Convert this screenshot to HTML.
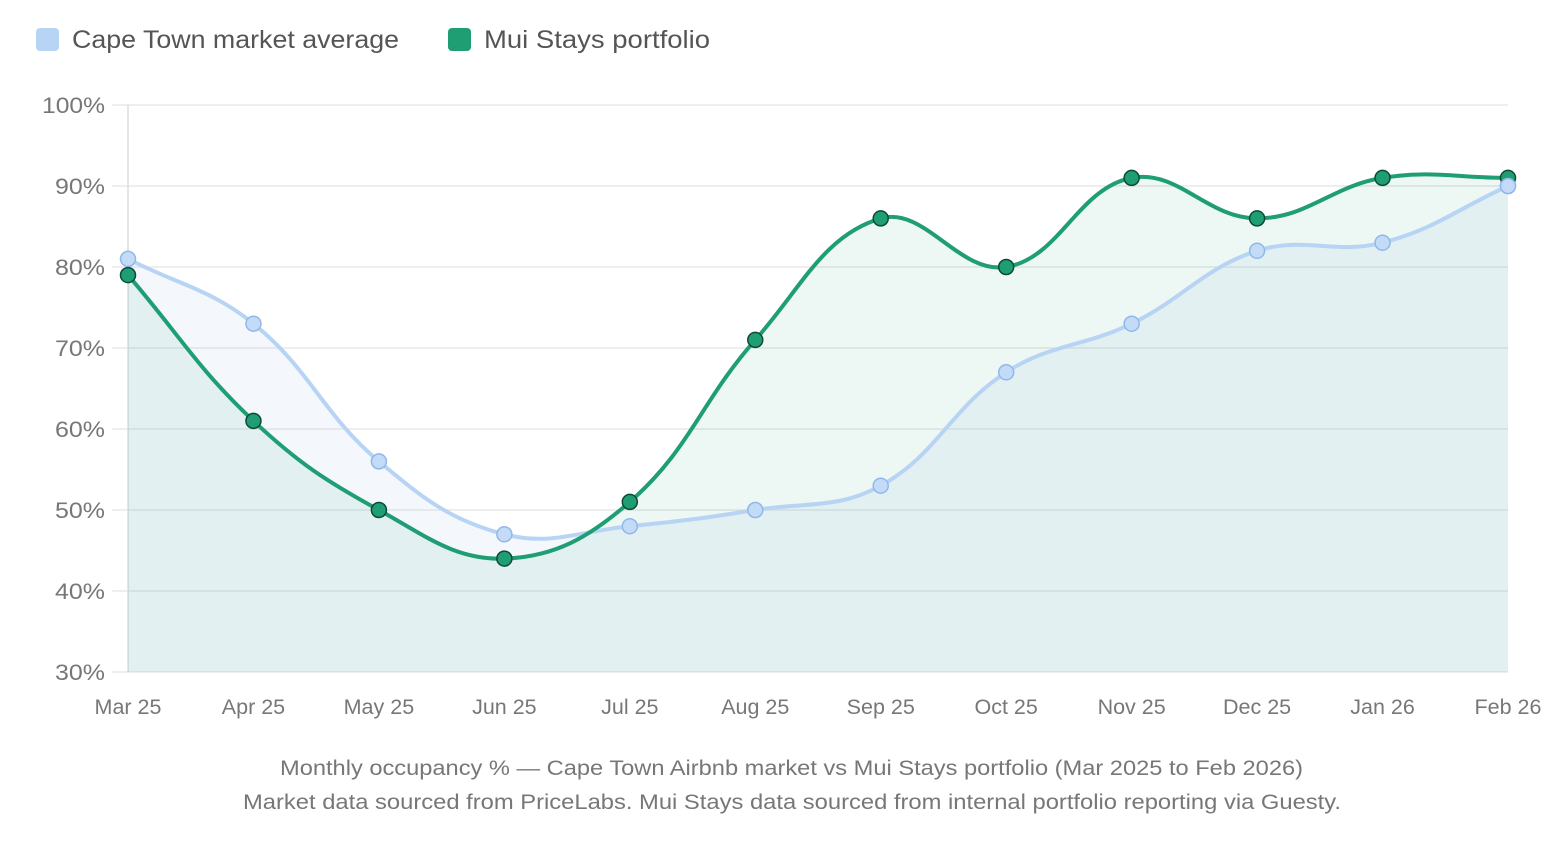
<!DOCTYPE html>
<html><head><meta charset="utf-8">
<style>
html,body{margin:0;padding:0;background:#fff;width:1568px;height:858px;overflow:hidden;font-family:"Liberation Sans",sans-serif;}
svg{position:absolute;left:0;top:0}
</style></head><body>
<svg id="s" width="1568" height="858" xmlns="http://www.w3.org/2000/svg">
<rect x="36" y="28" width="23" height="23" rx="4" fill="#b8d4f5"/>
<text x="72" y="48" font-size="25" fill="#555" textLength="327" lengthAdjust="spacingAndGlyphs">Cape Town market average</text>
<rect x="448" y="28" width="23" height="23" rx="4" fill="#1f9e74"/>
<text x="484" y="48" font-size="25" fill="#555" textLength="226" lengthAdjust="spacingAndGlyphs">Mui Stays portfolio</text>
<g id="grid"></g>
<g id="plot"></g>
<text x="280" y="775" font-size="21" fill="#777" textLength="1023" lengthAdjust="spacingAndGlyphs">Monthly occupancy % — Cape Town Airbnb market vs Mui Stays portfolio (Mar 2025 to Feb 2026)</text>
<text x="243" y="809" font-size="21" fill="#777" textLength="1098" lengthAdjust="spacingAndGlyphs">Market data sourced from PriceLabs. Mui Stays data sourced from internal portfolio reporting via Guesty.</text>
</svg>
<script>
var NS="http://www.w3.org/2000/svg";
function el(p,t,a,txt){var e=document.createElementNS(NS,t);for(var k in a)e.setAttribute(k,a[k]);if(txt!=null)e.textContent=txt;p.appendChild(e);return e;}
var x0=128,x1=1508,yTop=105,yBot=672;
function X(i){return x0+i*(x1-x0)/11;}
function Y(v){return yBot-(v-30)*(yBot-yTop)/70;}
var g=document.getElementById('grid');
for(var v=30;v<=100;v+=10){var y=Y(v);
 el(g,'line',{x1:112,x2:1508,y1:y,y2:y,stroke:'#e8e8e8','stroke-width':1.5});
 var t=el(g,'text',{x:105,y:y+8,'font-size':22,fill:'#777','text-anchor':'end'},v+'%');
 t.setAttribute('textLength',v==100?63:50);t.setAttribute('lengthAdjust','spacingAndGlyphs');}
el(g,'line',{x1:128,x2:128,y1:yTop,y2:yBot,stroke:'#ddd','stroke-width':1.5});
var labs=['Mar 25','Apr 25','May 25','Jun 25','Jul 25','Aug 25','Sep 25','Oct 25','Nov 25','Dec 25','Jan 26','Feb 26'];
labs.forEach(function(l,i){el(g,'text',{x:X(i),y:714,'font-size':21.5,fill:'#777','text-anchor':'middle'},l);});
var mk=[81,73,56,47,48,50,53,67,73,82,83,90];
var mu=[79,61,50,44,51,71,86,80,91,86,91,91];
function path(d){var p=d.map(function(v,i){return [X(i),Y(v)];});var t=0.4;
 var s='M'+p[0][0]+','+p[0][1];
 var cp=[];
 for(var i=0;i<p.length;i++){var pr=p[Math.max(0,i-1)],cu=p[i],nx=p[Math.min(p.length-1,i+1)];
  var d01=Math.hypot(cu[0]-pr[0],cu[1]-pr[1]),d12=Math.hypot(nx[0]-cu[0],nx[1]-cu[1]);
  var fa=d01/(d01+d12)||0,fb=d12/(d01+d12)||0;fa*=t;fb*=t;
  cp.push({p:[cu[0]-fa*(nx[0]-pr[0]),cu[1]-fa*(nx[1]-pr[1])],n:[cu[0]+fb*(nx[0]-pr[0]),cu[1]+fb*(nx[1]-pr[1])]});}
 for(var i=1;i<p.length;i++){s+=' C'+cp[i-1].n[0]+','+cp[i-1].n[1]+' '+cp[i].p[0]+','+cp[i].p[1]+' '+p[i][0]+','+p[i][1];}
 return s;}
var pl=document.getElementById('plot');
var pm=path(mk),pu=path(mu);
el(pl,'path',{d:pm+' L'+x1+','+yBot+' L'+x0+','+yBot+' Z',fill:'rgba(184,212,245,0.16)'});
el(pl,'path',{d:pu+' L'+x1+','+yBot+' L'+x0+','+yBot+' Z',fill:'rgba(31,158,116,0.08)'});
el(pl,'path',{d:pm,fill:'none',stroke:'#b8d4f5','stroke-width':4});
el(pl,'path',{d:pu,fill:'none',stroke:'#1f9e74','stroke-width':4});
mk.forEach(function(v,i){el(pl,'circle',{cx:X(i),cy:Y(v),r:7.5,fill:'#c4dbf7',stroke:'#8fb8ea','stroke-width':1.5});});
mu.forEach(function(v,i){el(pl,'circle',{cx:X(i),cy:Y(v),r:7.5,fill:'#1f9e74',stroke:'#0d4a36','stroke-width':1.5});});
el(pl,'circle',{cx:X(11),cy:Y(90),r:7.5,fill:'#c4dbf7',stroke:'#8fb8ea','stroke-width':1.5});
</script>
</body></html>
